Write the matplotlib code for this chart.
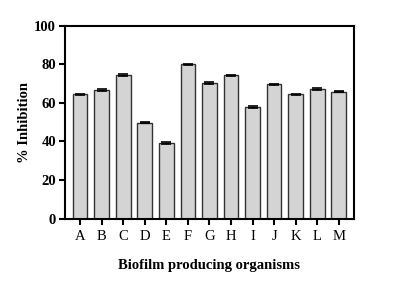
import matplotlib.pyplot as plt
import numpy as np

organisms = ['A', 'B', 'C', 'D', 'E', 'F', 'G', 'H', 'I', 'J', 'K', 'L', 'M']
inhibition = [64.5, 66.8, 74.6, 49.8, 39.1, 80.1, 70.5, 74.3, 58.0, 69.7, 64.5, 67.3, 65.9]
errors = [0.4, 0.4, 0.4, 0.4, 0.4, 0.4, 0.4, 0.4, 0.4, 0.4, 0.4, 0.4, 0.4]

plt.rcParams['font.family'] = 'Liberation Serif'

fig = plt.figure(figsize=(3.99, 2.84), dpi=100)
ax = fig.add_axes([0.163, 0.2306, 0.724, 0.678])

x = np.arange(len(organisms))
ax.bar(x, inhibition, width=0.68, color='#d4d4d4', edgecolor='#333333', linewidth=1.0,
       yerr=errors, error_kw=dict(ecolor='black', elinewidth=1.0, capsize=3.5, capthick=1.2))

ax.set_xlim(-0.7, 12.7)
ax.set_ylim(0, 100)
ax.set_yticks([0, 20, 40, 60, 80, 100])
ax.set_xticks(x)
ax.set_xticklabels(organisms, fontsize=10.5)
for lbl in ax.get_yticklabels():
    lbl.set_fontweight('bold')
    lbl.set_fontsize(10.5)

for s in ax.spines.values():
    s.set_linewidth(1.5)
ax.tick_params(direction='out', width=1.5, length=4.5, pad=2)
ax.tick_params(axis='x', pad=4)

ax.set_ylabel('% Inhibition', fontsize=10.5, fontweight='bold', labelpad=2)
ax.set_xlabel('Biofilm producing organisms', fontsize=10.5, fontweight='bold', labelpad=11)

plt.savefig('out.png', dpi=100)
